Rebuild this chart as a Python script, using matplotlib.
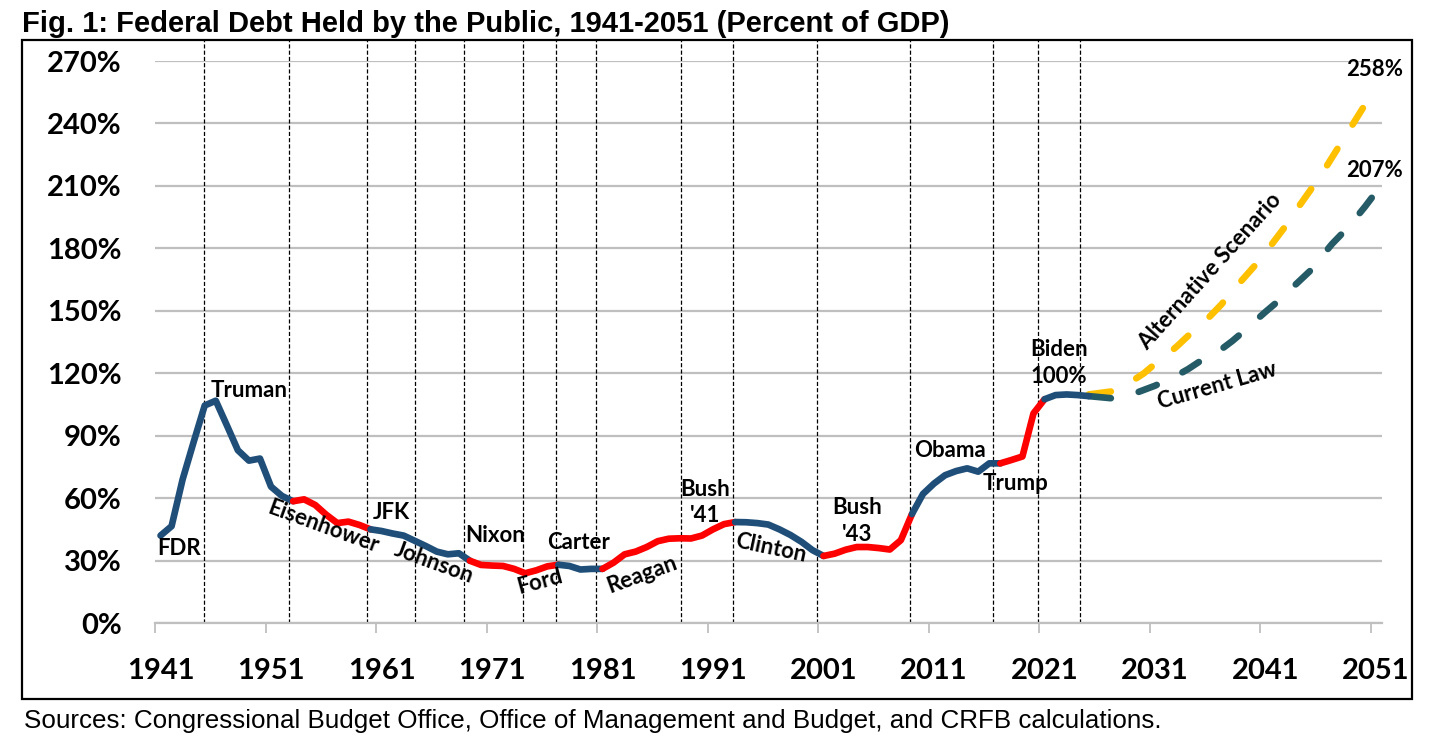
import numpy as np
import matplotlib.pyplot as plt
from matplotlib.patches import Rectangle

plt.rcParams['font.family'] = ['Lato', 'DejaVu Sans']

# Debt held by the public, percent of GDP
years = np.arange(1941, 2026)
debt = np.array([
    42, 46.5, 69, 87, 104.5, 106.8, 95, 83, 78, 79,                 # 1941-1950
    65.5, 61, 58.5, 59.4, 56.7, 52, 48, 48.7, 47.1, 45,             # 1951-1960
    44.2, 43, 42, 39.5, 37, 34.3, 33, 33.5, 29.9, 27.9,             # 1961-1970
    27.6, 27.4, 26, 23.9, 25.3, 27.2, 28, 27.4, 25.7, 26,           # 1971-1980
    26, 29, 33, 34.3, 36.5, 39.3, 40.5, 40.7, 40.6, 42,             # 1981-1990
    45, 47.5, 48.5, 48.4, 48, 47.3, 45, 42.3, 39, 35,               # 1991-2000
    32.2, 33.3, 35.2, 36.5, 36.5, 36, 35.3, 39.8, 52.3, 62,         # 2001-2010
    67, 71, 73, 74.3, 72.7, 76.7, 76.7, 78.3, 80, 100.7,            # 2011-2020
    107.5, 109.5, 109.8, 109.5, 109,                                # 2021-2025
])

# projections
proj_years = np.arange(2025, 2052)
current_law = np.array([
    109, 108.5, 108, 108.8, 110, 112, 114, 116.5, 119, 122,
    125.5, 128.5, 131.5, 135.5, 140, 144.8, 149.5, 154, 159, 164,
    169, 175.5, 182, 187.5, 193.5, 200, 207,
])
alt_scenario = np.array([
    109.8, 110.5, 111.2, 113.5, 116.5, 120, 124.5, 128.5, 133, 138,
    142.5, 147.5, 153, 159.5, 165.5, 171.5, 178, 185, 192, 200,
    207.5, 215, 223.5, 232, 240.5, 249, 258,
])
dash_start = 2027

# colour runs of the historical line (D = blue, R = red)
color_breaks = [1941, 1953, 1960, 1969, 1977, 1981, 1993, 2001, 2009, 2017, 2021, 2025]
party = ['D', 'R', 'D', 'R', 'D', 'R', 'D', 'R', 'D', 'R', 'D']

# dashed lines between presidencies
term_lines = [1944.9, 1952.6, 1959.7, 1964.0, 1968.5, 1973.8, 1976.8, 1980.4,
              1988.1, 1992.8, 2000.4, 2008.8, 2016.3, 2020.4, 2024.2]

# name, x, y, rotation
pres_labels = [
    ("FDR", 1942.7, 36.0, 0),
    ("Truman", 1949.0, 111.5, 0),
    ("Eisenhower", 1955.7, 46.1, -20),
    ("JFK", 1961.9, 53.3, 0),
    ("Johnson", 1965.7, 28.8, -20),
    ("Nixon", 1971.3, 41.8, 0),
    ("Ford", 1975.3, 19.7, 15),
    ("Carter", 1978.8, 38.9, 0),
    ("Reagan", 1984.6, 23.1, 20),
    ("Bush\n'41", 1990.3, 58.1, 0),
    ("Clinton", 1996.2, 36.0, -12),
    ("Bush\n'43", 2004.0, 49.0, 0),
    ("Obama", 2012.4, 83.1, 0),
    ("Trump", 2018.4, 66.8, 0),
    ("Biden\n100%", 2022.3, 124.9, 0),
    ("258%", 2050.9, 265.7, 0),
    ("207%", 2050.9, 217.2, 0),
    ("Alternative Scenario", 2036.0, 169.1, 48),
    ("Current Law", 2036.6, 113.9, 16),
]

blue = '#1F4E79'
red = '#FF0000'
teal = '#245B66'
gold = '#FFC000'
grey = '#BFBFBF'
lw = 4.8

fig = plt.figure(figsize=(14.3, 7.39), dpi=100)
ax = fig.add_axes([155 / 1430, 1 - 623 / 739, 1227 / 1430, 562 / 739])

# history, coloured by party
for i, p in enumerate(party):
    m = (years >= color_breaks[i]) & (years <= color_breaks[i + 1])
    ax.plot(years[m], debt[m], color=blue if p == 'D' else red, lw=lw,
            solid_capstyle='round', solid_joinstyle='round', zorder=4)

# projections: solid start, then dashed
solid = proj_years <= dash_start
dashed = proj_years >= dash_start
ax.plot(proj_years[solid], current_law[solid], color=teal, lw=lw,
        solid_capstyle='round', zorder=3)
ax.plot(proj_years[solid], alt_scenario[solid], color=gold, lw=lw,
        solid_capstyle='round', zorder=2)
ax.plot(proj_years[dashed], current_law[dashed], color=teal, lw=lw,
        linestyle=(2.9, (2.9, 4.3)), dash_capstyle='round', zorder=3)
ax.plot(proj_years[dashed], alt_scenario[dashed], color=gold, lw=lw,
        linestyle=(2.9, (2.9, 4.3)), dash_capstyle='round', zorder=3)

for x in term_lines:
    ax.axvline(x, ymin=0, ymax=1.0374, color='black', lw=0.9,
               linestyle=(0, (3.3, 1.7)), clip_on=False, zorder=1)

for txt, x, y, rot in pres_labels:
    ax.text(x, y, txt, fontsize=16, fontweight='bold', ha='center', va='center',
            rotation=rot, rotation_mode='anchor', linespacing=1.3, zorder=5)

ax.set_xlim(1940.5, 2051.54)
ax.set_ylim(0, 270)

ax.set_xticks(np.arange(1941, 2052, 10))
ax.set_xticklabels([str(y) for y in range(1941, 2052, 10)])
ax.set_xticks(np.arange(1940.5, 2051, 10), minor=True)
ax.set_yticks(np.arange(0, 271, 30))
ax.set_yticklabels([f'{v}%' for v in range(0, 271, 30)])

ax.tick_params(axis='x', which='major', length=0, pad=25, labelsize=21)
ax.tick_params(axis='x', which='minor', length=7.5, width=1.3, color=grey)
ax.tick_params(axis='y', length=0, pad=24, labelsize=21)
for lbl in ax.get_xticklabels() + ax.get_yticklabels():
    lbl.set_fontweight('bold')

ax.yaxis.grid(True, color=grey, lw=1.6)
ax.set_axisbelow(True)
for s in ['top', 'right', 'left']:
    ax.spines[s].set_visible(False)
ax.spines['bottom'].set_color(grey)
ax.spines['bottom'].set_linewidth(1.6)

# outer frame, title and source note
fig.patches.append(Rectangle((22 / 1430, 1 - 699 / 739), 1390 / 1430, 659 / 739,
                             transform=fig.transFigure, fill=False,
                             edgecolor='black', lw=1.6))
fig.text(22 / 1430, 1 - 32 / 739,
         "Fig. 1: Federal Debt Held by the Public, 1941-2051 (Percent of GDP)",
         family='Liberation Sans', fontweight='bold', fontsize=21, va='baseline')
fig.text(24 / 1430, 1 - 728 / 739,
         "Sources: Congressional Budget Office, Office of Management and Budget, and CRFB calculations.",
         family='Liberation Sans', fontsize=18.7, va='baseline')

fig.savefig('out.png', dpi=100)
